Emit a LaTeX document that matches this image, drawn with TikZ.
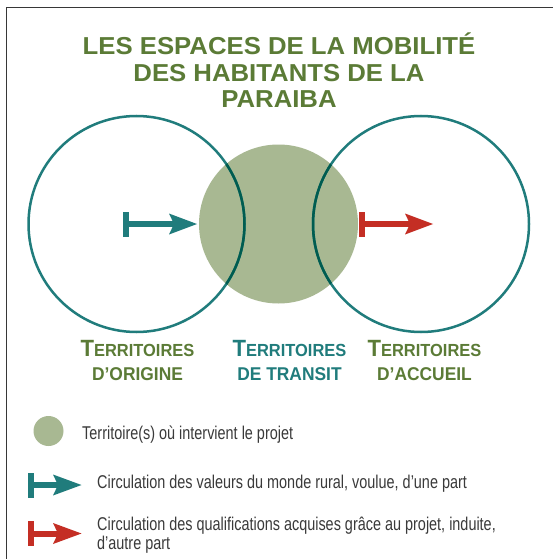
\documentclass[tikz,border=0pt]{standalone}
\usepackage{fontspec}
\setmainfont{Liberation Sans}
\newfontfamily\titlefont[FakeStretch=1.05]{Liberation Sans}
\newfontfamily\labfont[FakeStretch=0.94]{Liberation Sans}
\newfontfamily\legfont[FakeStretch=0.78]{Liberation Sans}
\definecolor{titlegreen}{RGB}{91,123,54}
\definecolor{tealc}{RGB}{32,124,124}
\definecolor{greenfill}{RGB}{168,184,146}
\definecolor{darkring}{RGB}{0,92,80}
\definecolor{redc}{RGB}{196,46,36}
\definecolor{legtextc}{RGB}{58,58,58}
\definecolor{framec}{RGB}{55,55,55}
\newcommand\flowarrow[5]{%
  \fill[#1] (#2,#3-12.5) rectangle (#2+6,#3+12.5);
  \fill[#1] (#2+6,#3-3) rectangle (#4+6,#3+3);
  \fill[#1] (#5,#3) -- (#4,#3-10.5) -- (#4+5,#3) -- (#4,#3+10.5) -- cycle;
}
\tikzset{
  titletext/.style={anchor=base, inner sep=0pt, text=titlegreen, font=\titlefont\bfseries\fontsize{24.5}{26}\selectfont},
  lab/.style={anchor=base, inner sep=0pt, font=\labfont\bfseries},
  legtext/.style={anchor=base west, inner sep=0pt, text=legtextc, font=\legfont\fontsize{18.5}{19}\selectfont},
  ring/.style={draw=tealc, line width=2.5pt},
  darkringst/.style={draw=darkring, line width=2.5pt},
  frameline/.style={draw=framec, line width=1.4pt},
}
\newcommand\bigT[1]{{\fontsize{23.5}{24}\selectfont #1}}
\newcommand\smallC[1]{{\fontsize{17.5}{18}\selectfont #1}}
\newcommand\lineC[1]{{\fontsize{18.5}{19}\selectfont #1}}
\begin{document}
\begin{tikzpicture}[x=1pt,y=-1pt]
\useasboundingbox (0,0) rectangle (553,559);
\fill[white] (0,0) rectangle (553,559);
% frame
\coordinate (fbl) at (6.7,559);
\coordinate (ftl) at (6.7,7.3);
\coordinate (ftr) at (553,7.3);
\draw[frameline] (fbl) -- (ftl) -- (ftr);
% title
\node[titletext] (t1) at (279,55) {LES ESPACES DE LA MOBILITÉ};
\node[titletext] (t2) at (279,81.5) {DES HABITANTS DE LA};
\node[titletext] (t3) at (279,108) {PARAIBA};
% circles
\fill[greenfill] (278.5,224) circle (79.5pt);
\draw[ring] (136.5,224) circle (108pt);
\draw[ring] (421,224) circle (108pt);
\begin{scope}
  \clip (278.5,224) circle (79.5pt);
  \draw[darkringst] (136.5,224) circle (108pt);
  \draw[darkringst] (421,224) circle (108pt);
\end{scope}
% arrows
\flowarrow{tealc}{122.7}{224}{169}{197}
\flowarrow{redc}{359}{224}{405}{433}
% labels
\node[lab, text=titlegreen] (o1) at (137.5,356) {\bigT{T}\smallC{ERRITOIRES}};
\node[lab, text=titlegreen] (o2) at (137.5,380) {\lineC{D’ORIGINE}};
\node[lab, text=tealc] (m1) at (289.5,356) {\bigT{T}\smallC{ERRITOIRES}};
\node[lab, text=tealc] (m2) at (289.5,380) {\lineC{DE TRANSIT}};
\node[lab, text=titlegreen] (a1) at (424.5,356) {\bigT{T}\smallC{ERRITOIRES}};
\node[lab, text=titlegreen] (a2) at (424.5,380) {\lineC{D’ACCUEIL}};
% legend
\fill[greenfill] (48.5,431) circle (15pt);
\node[legtext] (l1) at (82,439) {Territoire(s) où intervient le projet};
\flowarrow{tealc}{28}{485}{53}{81.5}
\node[legtext] (l2) at (97,488) {Circulation des valeurs du monde rural, voulue, d’une part};
\flowarrow{redc}{28}{533.5}{53}{81.5}
\node[legtext] (l3) at (97,530) {Circulation des qualifications acquises grâce au projet, induite,};
\node[legtext] (l4) at (97,549) {d’autre part};
\end{tikzpicture}
\end{document}
